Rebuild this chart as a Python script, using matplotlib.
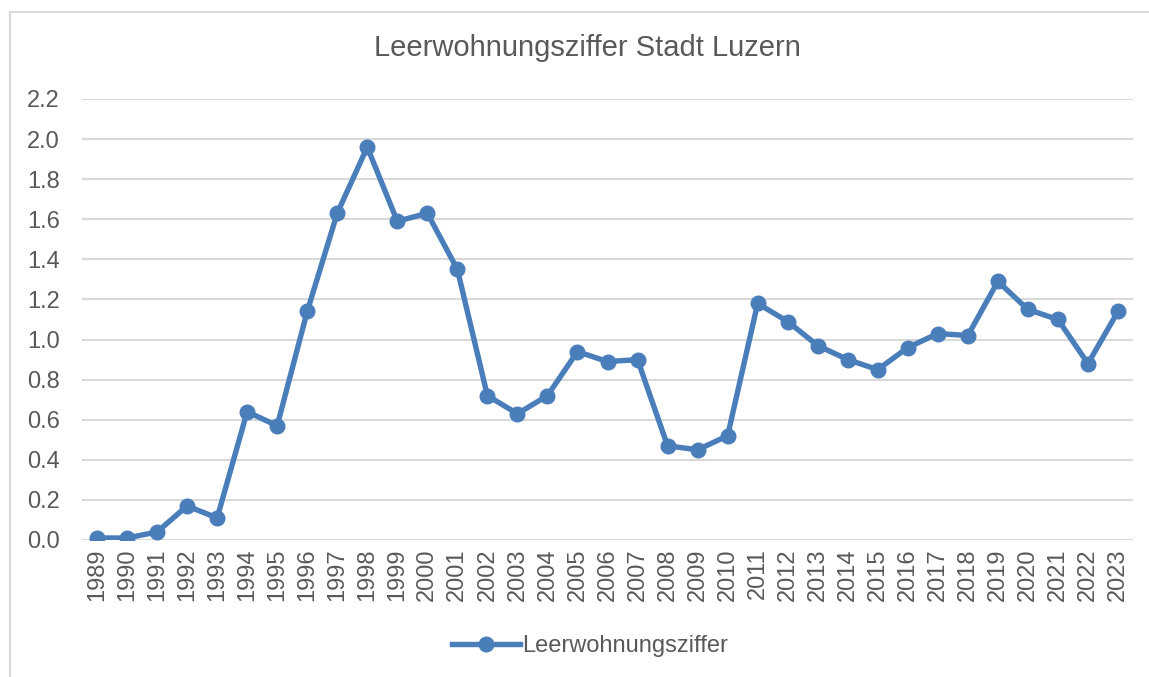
import matplotlib.pyplot as plt
from matplotlib.lines import Line2D

plt.rcParams['font.family'] = ['Liberation Sans', 'DejaVu Sans']

years = list(range(1989, 2024))
values = [0.01, 0.01, 0.04, 0.17, 0.11, 0.64, 0.57, 1.14, 1.63, 1.96,
          1.59, 1.63, 1.35, 0.72, 0.63, 0.72, 0.94, 0.89, 0.90, 0.47,
          0.45, 0.52, 1.18, 1.09, 0.97, 0.90, 0.85, 0.96, 1.03, 1.02,
          1.29, 1.15, 1.10, 0.88, 1.14]
yticks = [0.0, 0.2, 0.4, 0.6, 0.8, 1.0, 1.2, 1.4, 1.6, 1.8, 2.0, 2.2]

blue = '#4a7ebb'
text_col = '#595959'
grid_col = '#d9d9d9'

fig = plt.figure(figsize=(11.49, 6.77), dpi=100)
ax = fig.add_axes([82 / 1149, 1 - 540 / 677, (1133 - 82) / 1149, (540 - 99) / 677])

x = range(len(years))
ax.plot(x, values, color=blue, lw=3.9, marker='o', ms=10.5,
        label='Leerwohnungsziffer', solid_joinstyle='round')

ax.set_xlim(-0.5, len(years) - 0.5)
ax.set_ylim(0, 2.2)
ax.set_xticks(list(x))
ax.set_xticklabels([str(y) for y in years], rotation=90)
ax.set_yticks(yticks)
ax.set_yticklabels([f'{v:.1f}' for v in yticks])
ax.tick_params(axis='both', length=0, labelsize=17, labelcolor=text_col)
ax.tick_params(axis='y', pad=16)
ax.tick_params(axis='x', pad=6)
ax.grid(axis='y', color=grid_col, lw=1.5)
ax.set_axisbelow(True)
for s in ax.spines.values():
    s.set_visible(False)

fig.text(587 / 1149, 1 - 48 / 677, 'Leerwohnungsziffer Stadt Luzern',
         ha='center', va='center', fontsize=21, color=text_col)

fig.legend(loc='center', bbox_to_anchor=(590 / 1149, 1 - 646 / 677),
           frameon=False, fontsize=17, labelcolor=text_col,
           handlelength=2.9, handletextpad=0.1)

# chart border
fig.add_artist(Line2D([10 / 1149, 10 / 1149], [0, 1 - 12 / 677],
                      color=grid_col, lw=1.5, transform=fig.transFigure))
fig.add_artist(Line2D([10 / 1149, 1], [1 - 12 / 677, 1 - 12 / 677],
                      color=grid_col, lw=1.5, transform=fig.transFigure))

fig.savefig('out.png', dpi=100)
